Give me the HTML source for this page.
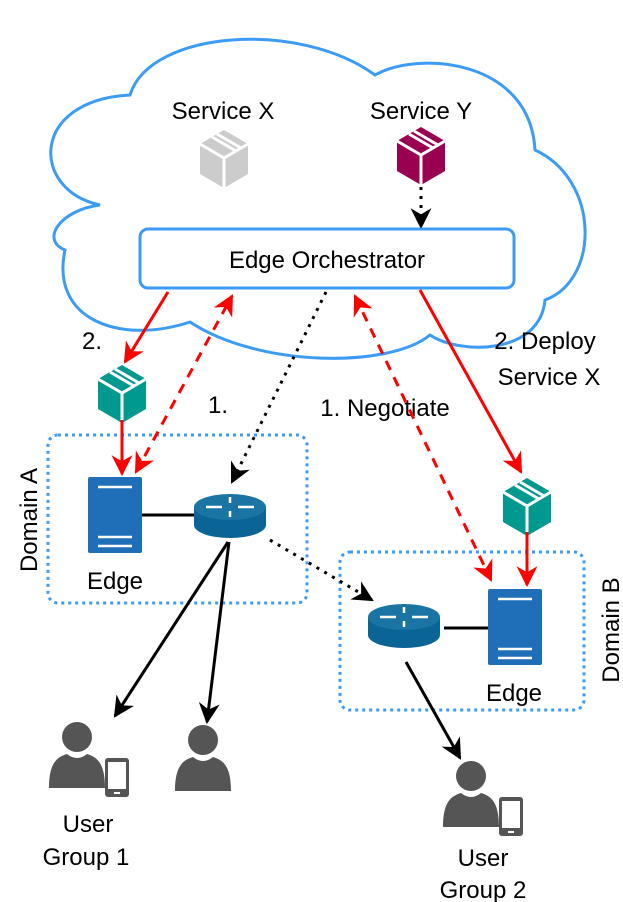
<!DOCTYPE html>
<html><head><meta charset="utf-8"><style>html,body{margin:0;padding:0;background:#fff}svg{display:block}text{font-family:"Liberation Sans",sans-serif;fill:#000}</style></head><body>
<svg width="623" height="902" viewBox="0 0 623 902" xmlns="http://www.w3.org/2000/svg">
<defs>
<marker id="ar" viewBox="0 0 10 10" refX="9" refY="5" markerWidth="7" markerHeight="7" orient="auto-start-reverse"><path d="M0,0 L10,5 L0,10 L3,5 Z" fill="#f00"/></marker>
<marker id="ab" viewBox="0 0 10 10" refX="9" refY="5" markerWidth="7" markerHeight="7" orient="auto-start-reverse"><path d="M0,0 L10,5 L0,10 L3,5 Z" fill="#000"/></marker>
<g id="cube"><polygon points="24,0 48,14 48,44 24,58 0,44 0,14"/><path d="M0,14 L24,28 L48,14 M24,28 L24,58 M12,7 L36,21 M17,4 L41,18" stroke="#fff" stroke-width="3" fill="none"/></g>
<g id="srv"><rect x="0" y="0" width="54" height="76" rx="2" fill="#1f6fb8"/><path d="M10,10h34M10,60h34M10,69h34" stroke="#fff" stroke-width="2.5"/></g>
<g id="rt"><path d="M0,14 v18 a36,13 0 0 0 72,0 v-18 z" fill="#0b6496"/><ellipse cx="36" cy="14" rx="36" ry="13" fill="#1a74a4"/><path d="M12,14h16M44,14h16M36,4v6M36,18v6" stroke="#fff" stroke-width="2.5"/></g>
<g id="usr"><circle cx="28" cy="16" r="15" fill="#555"/><path d="M0,67 C0,42 8,36 18,33 Q28,41 38,33 C48,36 56,42 56,67 Z" fill="#555"/></g>
<g id="ph"><rect x="0" y="0" width="24" height="39" rx="3" fill="#555"/><rect x="3" y="4" width="18" height="27" fill="#fff"/><rect x="9" y="34" width="6" height="2" fill="#fff"/></g>
</defs>
<path d="M100,205 C30,190 30,100 130,95 C150,30 300,20 375,75 C420,50 530,60 535,150 C600,180 600,280 545,300 C540,355 460,355 430,335 C390,368 260,368 190,322 C120,345 50,320 65,250 C40,240 60,210 100,205 Z" fill="#fff" stroke="#3b9bf5" stroke-width="3"/>
<text x="223" y="119" font-size="24" text-anchor="middle">Service X</text>
<text x="421" y="119" font-size="24" text-anchor="middle">Service Y</text>
<use href="#cube" x="200" y="130" fill="#ccc"/>
<use href="#cube" x="397" y="127" fill="#990050"/>
<line x1="421" y1="187" x2="421" y2="227" stroke="#000" stroke-width="3" stroke-dasharray="3,6" marker-end="url(#ab)"/>
<rect x="140" y="229" width="374" height="59" rx="8" fill="#fff" stroke="#3b9bf5" stroke-width="3"/>
<text x="327" y="268" font-size="24" text-anchor="middle">Edge Orchestrator</text>
<rect x="48" y="435" width="259" height="168" rx="10" fill="none" stroke="#3b9bf5" stroke-width="3" stroke-dasharray="3,4"/>
<rect x="340" y="552" width="244" height="158" rx="10" fill="none" stroke="#3b9bf5" stroke-width="3" stroke-dasharray="3,4"/>
<text transform="translate(37,520) rotate(-90)" font-size="24" text-anchor="middle">Domain A</text>
<text transform="translate(619,630) rotate(-90)" font-size="24" text-anchor="middle">Domain B</text>
<line x1="168" y1="292" x2="125" y2="362" stroke="#f00" stroke-width="3" marker-end="url(#ar)"/>
<text x="92" y="349" font-size="24" text-anchor="middle">2.</text>
<use href="#cube" x="98" y="365" fill="#009990"/>
<line x1="122" y1="420" x2="122" y2="474" stroke="#f00" stroke-width="3" marker-end="url(#ar)"/>
<line x1="136" y1="472" x2="232" y2="296" stroke="#f00" stroke-width="3" stroke-dasharray="10,8" marker-start="url(#ar)" marker-end="url(#ar)"/>
<text x="218" y="413" font-size="24" text-anchor="middle">1.</text>
<line x1="326" y1="292" x2="232" y2="482" stroke="#000" stroke-width="3" stroke-dasharray="3,6" marker-end="url(#ab)"/>
<text x="385" y="416" font-size="24" text-anchor="middle">1. Negotiate</text>
<line x1="355" y1="296" x2="491" y2="580" stroke="#f00" stroke-width="3" stroke-dasharray="10,8" marker-start="url(#ar)" marker-end="url(#ar)"/>
<line x1="420" y1="290" x2="521" y2="472" stroke="#f00" stroke-width="3" marker-end="url(#ar)"/>
<text x="545" y="349" font-size="24" text-anchor="middle">2. Deploy</text>
<text x="549" y="385" font-size="24" text-anchor="middle">Service X</text>
<use href="#cube" x="503" y="478" fill="#009990"/>
<line x1="527" y1="532" x2="527" y2="585" stroke="#f00" stroke-width="3" marker-end="url(#ar)"/>
<use href="#srv" x="88" y="477"/>
<text x="115" y="589" font-size="24" text-anchor="middle">Edge</text>
<line x1="142" y1="515" x2="195" y2="515" stroke="#000" stroke-width="3"/>
<use href="#rt" x="194" y="493"/>
<line x1="228" y1="542" x2="115" y2="716" stroke="#000" stroke-width="3" marker-end="url(#ab)"/>
<line x1="229" y1="542" x2="207" y2="722" stroke="#000" stroke-width="3" marker-end="url(#ab)"/>
<line x1="270" y1="540" x2="372" y2="600" stroke="#000" stroke-width="3" stroke-dasharray="3,6" marker-end="url(#ab)"/>
<use href="#rt" x="368" y="603"/>
<line x1="444" y1="628" x2="488" y2="628" stroke="#000" stroke-width="3"/>
<use href="#srv" x="488" y="589"/>
<text x="514" y="701" font-size="24" text-anchor="middle">Edge</text>
<line x1="406" y1="662" x2="460" y2="758" stroke="#000" stroke-width="3" marker-end="url(#ab)"/>
<use href="#usr" x="49" y="721"/><use href="#ph" x="105" y="758"/>
<use href="#usr" x="175" y="724"/>
<text x="88" y="832" font-size="24" text-anchor="middle">User</text>
<text x="86" y="865" font-size="24" text-anchor="middle">Group 1</text>
<use href="#usr" x="443" y="760"/><use href="#ph" x="499" y="797"/>
<text x="483" y="866" font-size="24" text-anchor="middle">User</text>
<text x="483" y="898" font-size="24" text-anchor="middle">Group 2</text>
</svg>
</body></html>
